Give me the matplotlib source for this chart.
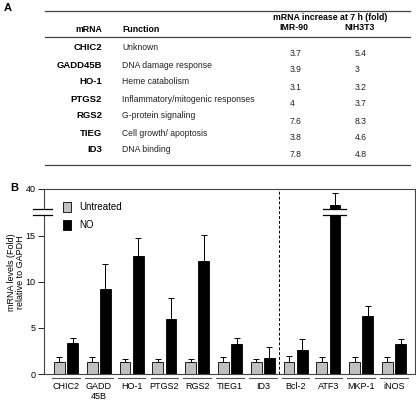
import numpy as np
import matplotlib
matplotlib.use("Agg")
import matplotlib.pyplot as plt
from matplotlib.lines import Line2D
from matplotlib.scale import FuncScale

plt.rcParams['font.family'] = ['Liberation Sans', 'DejaVu Sans']

# ---- panel A data
genes = ["CHIC2", "GADD45B", "HO-1", "PTGS2", "RGS2", "TIEG", "ID3"]
functions = ["Unknown", "DNA damage response", "Heme catabolism",
             "Inflammatory/mitogenic responses", "G-protein signaling",
             "Cell growth/ apoptosis", "DNA binding"]
imr90 = ["3.7", "3.9", "3.1", "4", "7.6", "3.8", "7.8"]
nih3t3 = ["5.4", "3", "3.2", "3.7", "8.3", "4.6", "4.8"]

# ---- panel B data
labels = ["CHIC2", "GADD\n45B", "HO-1", "PTGS2", "RGS2", "TIEG1", "ID3",
          "Bcl-2", "ATF3", "MKP-1", "iNOS"]
untreated = [1.3, 1.3, 1.3, 1.3, 1.3, 1.3, 1.3, 1.3, 1.3, 1.3, 1.3]
untreated_err = [0.6, 0.6, 0.3, 0.3, 0.3, 0.55, 0.3, 0.65, 0.6, 0.6, 0.6]
no = [3.4, 9.2, 12.8, 5.95, 12.25, 3.26, 1.7, 2.6, 36.8, 6.27, 3.26]
no_err = [0.5, 2.7, 2.0, 2.35, 2.85, 0.6, 1.25, 1.2, 2.4, 1.1, 0.5]

W, H = 416, 400
fig = plt.figure(figsize=(W/100, H/100), dpi=100)

def fx(x):
    return x / W

def fy(y):
    return 1 - y / H

def T(x, y, s, **kw):
    fig.text(fx(x), fy(y), s, **kw)

# ---- panel A: table
T(4, 8, "A", fontsize=8, fontweight='bold', va='center')
for yl in (11, 37, 165):
    fig.add_artist(Line2D([fx(45), fx(410)], [fy(yl), fy(yl)], color='#444444', lw=0.9))
T(330, 18, "mRNA increase at 7 h (fold)", fontsize=6.3, fontweight='bold', ha='center', va='center')
T(294, 28, "IMR-90", fontsize=6.3, fontweight='bold', ha='center', va='center')
T(360, 28, "NIH3T3", fontsize=6.3, fontweight='bold', ha='center', va='center')
T(102, 29, "mRNA", fontsize=6.3, fontweight='bold', ha='right', va='center')
T(122, 29, "Function", fontsize=6.3, fontweight='bold', ha='left', va='center')

for i in range(len(genes)):
    y = 48 + i * 17
    T(102, y, genes[i], fontsize=6.8, fontweight='bold', ha='right', va='center')
    T(122, y, functions[i], fontsize=6.2, ha='left', va='center', color='#222222')
    T(290, y + 5, imr90[i], fontsize=6.2, ha='left', va='center', color='#222222')
    T(355, y + 5, nih3t3[i], fontsize=6.2, ha='left', va='center', color='#222222')

# ---- panel B: bar chart with broken y axis
LO, HI = 17.3, 36.0
GAP = 0.65
S = (20.1 - (LO + GAP)) / (40 - HI)

def fwd(y):
    y = np.asarray(y, dtype=float)
    return np.where(y <= LO, y,
                    np.where(y < HI, LO + (y - LO) * GAP / (HI - LO),
                             LO + GAP + (y - HI) * S))

def inv(f):
    f = np.asarray(f, dtype=float)
    return np.where(f <= LO, f,
                    np.where(f < LO + GAP, LO + (f - LO) * (HI - LO) / GAP,
                             HI + (f - LO - GAP) / S))

T(10, 188, "B", fontsize=8, fontweight='bold', va='center')

ax = fig.add_axes([44/W, 26/H, 371/W, 185/H])
ax.set_yscale(FuncScale(ax, (fwd, inv)))

x = np.arange(len(labels))
bw = 0.33
ax.bar(x - 0.2, untreated, bw, color='#c0c0c0', edgecolor='black', lw=0.6, label='Untreated', zorder=2)
ax.bar(x + 0.2, no, bw, color='black', edgecolor='black', lw=0.6, label='NO', zorder=2)
ax.errorbar(x - 0.2, untreated, yerr=[np.zeros(len(x)), untreated_err], fmt='none',
            ecolor='black', elinewidth=0.7, capsize=2, capthick=0.7, zorder=1)
ax.errorbar(x + 0.2, no, yerr=[np.zeros(len(x)), no_err], fmt='none',
            ecolor='black', elinewidth=0.7, capsize=2, capthick=0.7, zorder=1)

ax.set_xlim(-0.67, 10.64)
ax.set_ylim(0, 40)
ax.set_yticks([0, 5, 10, 15, 40])
ax.tick_params(axis='y', labelsize=6.5, length=4, width=0.6, pad=2)
ax.set_xticks(x)
ax.set_xticklabels(labels, fontsize=6.5, linespacing=1.1)
ax.tick_params(axis='x', length=0, pad=6)
for sp in ax.spines.values():
    sp.set_linewidth(0.8)
    sp.set_color('#444444')

# group overlines under axis
trans = ax.get_xaxis_transform()
for xi in x:
    ax.plot([xi - 0.42, xi + 0.42], [-0.022, -0.022], color='#555555', lw=0.8,
            transform=trans, clip_on=False)

# dashed separator
ax.axvline(6.5, color='black', lw=0.7, ls=(0, (3, 2)))

# break marks: left spine and ATF3 bar
for (x0, x1) in [(-1.0, -0.43), (8.2 - 0.35, 8.2 + 0.35)]:
    ax.fill_between([x0, x1], LO, HI, color='white', zorder=5, clip_on=False, lw=0)
    ax.plot([x0, x1], [LO, LO], color='black', lw=0.9, zorder=6, clip_on=False)
    ax.plot([x0, x1], [HI, HI], color='black', lw=0.9, zorder=6, clip_on=False)

ax.set_ylabel("mRNA levels (Fold)\nrelative to GAPDH", fontsize=6.5, linespacing=1.0)
ax.yaxis.set_label_coords(-0.05, 0.55)

ax.legend(loc='upper left', bbox_to_anchor=(0.05, 0.93), frameon=False, fontsize=7,
          handlelength=0.9, handleheight=1.25, labelspacing=0.75, handletextpad=0.8,
          borderpad=0, borderaxespad=0)

fig.savefig("out.png", dpi=100)
